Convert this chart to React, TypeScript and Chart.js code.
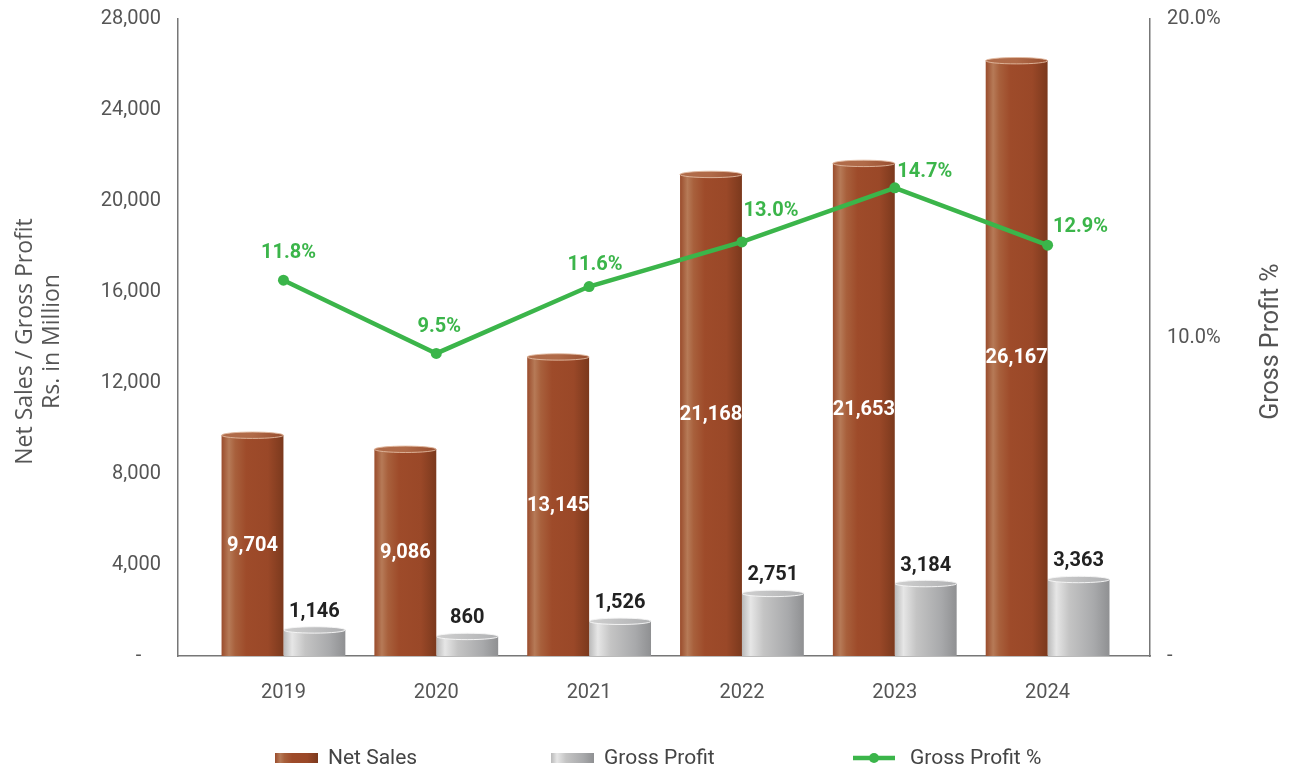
import React, { useEffect, useRef } from 'react';
import { Chart, registerables } from 'chart.js';

Chart.register(...registerables);

const years = ['2019', '2020', '2021', '2022', '2023', '2024'];
const netSales = [9704, 9086, 13145, 21168, 21653, 26167];
const grossProfit = [1146, 860, 1526, 2751, 3184, 3363];
const grossProfitPct = [11.8, 9.5, 11.6, 13.0, 14.7, 12.9];
const leftTicks = [0, 4000, 8000, 12000, 16000, 20000, 24000, 28000];
const rightTicks = [0, 10, 20];

const seriesNames = ['Net Sales', 'Gross Profit', 'Gross Profit %'];

// label offsets (px) for the percentage labels relative to their points
const pctLabelOffsets: [number, number][] = [
  [5, -27], [3, -26], [6, -22], [29, -31], [30, -16], [33, -18],
];

const CAT_PCT = 0.81;
const GREEN = '#3bb54a';
const AXIS = '#777777';
const TEXT = '#555555';
const FONT = 'Roboto, "DejaVu Sans", sans-serif';

function brownGradient(ctx: CanvasRenderingContext2D, x0: number, x1: number) {
  const g = ctx.createLinearGradient(x0, 0, x1, 0);
  g.addColorStop(0, '#9a4c2c');
  g.addColorStop(0.12, '#b67a57');
  g.addColorStop(0.22, '#a8603c');
  g.addColorStop(0.4, '#9e4b2a');
  g.addColorStop(0.75, '#9a4828');
  g.addColorStop(1, '#7b391d');
  return g;
}

function silverGradient(ctx: CanvasRenderingContext2D, x0: number, x1: number) {
  const g = ctx.createLinearGradient(x0, 0, x1, 0);
  g.addColorStop(0, '#b9b9b9');
  g.addColorStop(0.14, '#e6e6e6');
  g.addColorStop(0.35, '#c4c4c4');
  g.addColorStop(0.75, '#a8a9ab');
  g.addColorStop(1, '#8f9092');
  return g;
}

function barFill(kind: number) {
  return (c: any) => {
    const chart = c.chart;
    const x = chart.scales?.x;
    if (!chart.chartArea || !x || c.dataIndex === undefined) {
      return kind === 0 ? '#9e4b2a' : '#b5b5b5';
    }
    const center = x.getPixelForValue(c.dataIndex);
    const w = (x.getPixelForValue(1) - x.getPixelForValue(0)) * CAT_PCT / 2;
    const x0 = kind === 0 ? center - w : center;
    const x1 = x0 + w;
    return kind === 0 ? brownGradient(chart.ctx, x0, x1) : silverGradient(chart.ctx, x0, x1);
  };
}

const cylinderTops = {
  id: 'cylinderTops',
  afterDatasetDraw(chart: any, args: any) {
    if (args.index > 1) return;
    const ctx = chart.ctx;
    const meta = chart.getDatasetMeta(args.index);
    ctx.save();
    meta.data.forEach((el: any) => {
      const { x, y, width } = el.getProps(['x', 'y', 'width'], true);
      const rx = width / 2;
      const ry = 3.2;
      ctx.beginPath();
      ctx.ellipse(x, y, rx, ry, 0, 0, Math.PI * 2);
      if (args.index === 0) {
        const g = ctx.createLinearGradient(x - rx, 0, x + rx, 0);
        g.addColorStop(0, '#b06c4a');
        g.addColorStop(0.5, '#b06a48');
        g.addColorStop(1, '#984e2f');
        ctx.fillStyle = g;
        ctx.fill();
        ctx.strokeStyle = 'rgba(225,185,160,0.9)';
      } else {
        const g = ctx.createLinearGradient(x - rx, 0, x + rx, 0);
        g.addColorStop(0, '#d0d0d0');
        g.addColorStop(1, '#b0b1b3');
        ctx.fillStyle = g;
        ctx.fill();
        ctx.strokeStyle = 'rgba(245,245,245,0.95)';
      }
      ctx.lineWidth = 1;
      ctx.stroke();
    });
    ctx.restore();
  },
};

const valueLabels = {
  id: 'valueLabels',
  afterDatasetsDraw(chart: any) {
    const ctx = chart.ctx;
    ctx.save();
    ctx.textAlign = 'center';
    ctx.textBaseline = 'middle';
    ctx.font = `bold 20px ${FONT}`;
    const m0 = chart.getDatasetMeta(0);
    m0.data.forEach((el: any, i: number) => {
      const { x, y, base } = el.getProps(['x', 'y', 'base'], true);
      ctx.fillStyle = '#ffffff';
      ctx.fillText(netSales[i].toLocaleString('en-US'), x, (y + base) / 2);
    });
    const m1 = chart.getDatasetMeta(1);
    m1.data.forEach((el: any, i: number) => {
      const { x, y } = el.getProps(['x', 'y'], true);
      ctx.fillStyle = '#222222';
      ctx.fillText(grossProfit[i].toLocaleString('en-US'), x, y - 18);
    });
    const m2 = chart.getDatasetMeta(2);
    m2.data.forEach((el: any, i: number) => {
      const { x, y } = el.getProps(['x', 'y'], true);
      const [dx, dy] = pctLabelOffsets[i];
      ctx.fillStyle = GREEN;
      ctx.fillText(grossProfitPct[i].toFixed(1) + '%', x + dx, y + dy);
    });
    ctx.restore();
  },
};

const titlesAndLegend = {
  id: 'titlesAndLegend',
  afterDraw(chart: any) {
    const ctx = chart.ctx;
    const area = chart.chartArea;
    const midY = (area.top + area.bottom) / 2 + 4;
    ctx.save();
    ctx.fillStyle = TEXT;
    ctx.textAlign = 'center';
    ctx.textBaseline = 'middle';
    ctx.save();
    ctx.translate(25, midY);
    ctx.rotate(-Math.PI / 2);
    ctx.font = `23px "Open Sans", sans-serif`;
    ctx.fillText('Net Sales / Gross Profit', 0, 0);
    ctx.fillText('Rs. in Million', 0, 27);
    ctx.restore();
    ctx.save();
    ctx.translate(1272, midY);
    ctx.rotate(-Math.PI / 2);
    ctx.font = `25px ${FONT}`;
    ctx.fillText('Gross Profit %', 0, 0);
    ctx.restore();

    const ly = 758;
    ctx.font = `21px ${FONT}`;
    ctx.textAlign = 'left';
    ctx.fillStyle = brownGradient(ctx, 275, 318);
    ctx.fillRect(275, ly - 5, 43, 10);
    ctx.fillStyle = '#444444';
    ctx.fillText(seriesNames[0], 328, ly + 1);
    ctx.fillStyle = silverGradient(ctx, 551, 594);
    ctx.fillRect(551, ly - 5, 43, 10);
    ctx.fillStyle = '#444444';
    ctx.fillText(seriesNames[1], 604, ly + 1);
    ctx.strokeStyle = GREEN;
    ctx.lineWidth = 4.5;
    ctx.beginPath();
    ctx.moveTo(853, ly);
    ctx.lineTo(895, ly);
    ctx.stroke();
    ctx.fillStyle = GREEN;
    ctx.beginPath();
    ctx.arc(874, ly, 5, 0, Math.PI * 2);
    ctx.fill();
    ctx.fillStyle = '#444444';
    ctx.fillText(seriesNames[2], 910, ly + 1);
    ctx.restore();
  },
};

function noPad(s: any) {
  s.paddingTop = 0;
  s.paddingBottom = 0;
  s.paddingLeft = 0;
  s.paddingRight = 0;
}

export default function App() {
  const ref = useRef<HTMLCanvasElement | null>(null);

  useEffect(() => {
    if (!ref.current) return;
    const chart = new Chart(ref.current, {
      type: 'bar',
      data: {
        datasets: [
          {
            type: 'bar',
            label: seriesNames[0],
            data: netSales.map((y, i) => ({ x: i, y })),
            yAxisID: 'y',
            backgroundColor: barFill(0),
            borderWidth: 0,
            categoryPercentage: CAT_PCT,
            barPercentage: 1,
            order: 1,
          },
          {
            type: 'bar',
            label: seriesNames[1],
            data: grossProfit.map((y, i) => ({ x: i, y })),
            yAxisID: 'y',
            backgroundColor: barFill(1),
            borderWidth: 0,
            categoryPercentage: CAT_PCT,
            barPercentage: 1,
            order: 1,
          },
          {
            type: 'line',
            label: seriesNames[2],
            data: grossProfitPct.map((y, i) => ({ x: i, y })),
            yAxisID: 'y1',
            borderColor: GREEN,
            backgroundColor: GREEN,
            borderWidth: 4.5,
            pointRadius: 5.5,
            pointBackgroundColor: GREEN,
            pointBorderWidth: 0,
            tension: 0,
            order: 0,
          },
        ] as any,
      },
      options: {
        animation: false,
        responsive: false,
        maintainAspectRatio: false,
        layout: { padding: { top: 19, bottom: 41, left: 0, right: 0 } },
        plugins: {
          legend: { display: false },
          tooltip: { enabled: false },
        },
        scales: {
          x: {
            type: 'linear',
            min: -0.69,
            max: 5.67,
            offset: false,
            afterBuildTicks: (s: any) => {
              s.ticks = years.map((_, i) => ({ value: i }));
            },
            afterFit: (s: any) => {
              s.height = 70;
              noPad(s);
            },
            ticks: {
              autoSkip: false,
              maxRotation: 0,
              padding: 25,
              color: TEXT,
              font: { family: FONT, size: 20 },
              callback: (v: any) => years[v] ?? '',
            },
            grid: { display: false, drawTicks: false, offset: false },
            border: { display: true, color: AXIS, width: 1.5 },
          },
          y: {
            position: 'left',
            min: 0,
            max: 28000,
            afterBuildTicks: (s: any) => {
              s.ticks = leftTicks.map((value) => ({ value }));
            },
            afterFit: (s: any) => {
              s.width = 178;
              noPad(s);
            },
            ticks: {
              padding: 17,
              color: TEXT,
              font: { family: FONT, size: 20 },
              callback: (v: any) => (v === 0 ? '-    ' : Number(v).toLocaleString('en-US')),
            },
            grid: { display: false, drawTicks: false },
            border: { display: true, color: AXIS, width: 1.5 },
          },
          y1: {
            position: 'right',
            min: 0,
            max: 20,
            afterBuildTicks: (s: any) => {
              s.ticks = rightTicks.map((value) => ({ value }));
            },
            afterFit: (s: any) => {
              s.width = 145;
              noPad(s);
            },
            ticks: {
              padding: 17,
              color: TEXT,
              font: { family: FONT, size: 20 },
              callback: (v: any) => (v === 0 ? '-' : Number(v).toFixed(1) + '%'),
            },
            grid: { display: false, drawTicks: false },
            border: { display: true, color: AXIS, width: 1.5 },
          },
        },
      } as any,
      plugins: [cylinderTops, valueLabels, titlesAndLegend],
    });
    return () => chart.destroy();
  }, []);

  return (
    <div style={{ position: 'fixed', left: 0, top: 0, width: 1295, height: 767, background: '#fff' }}>
      <canvas ref={ref} width={1295} height={767} style={{ display: 'block' }} />
    </div>
  );
}
